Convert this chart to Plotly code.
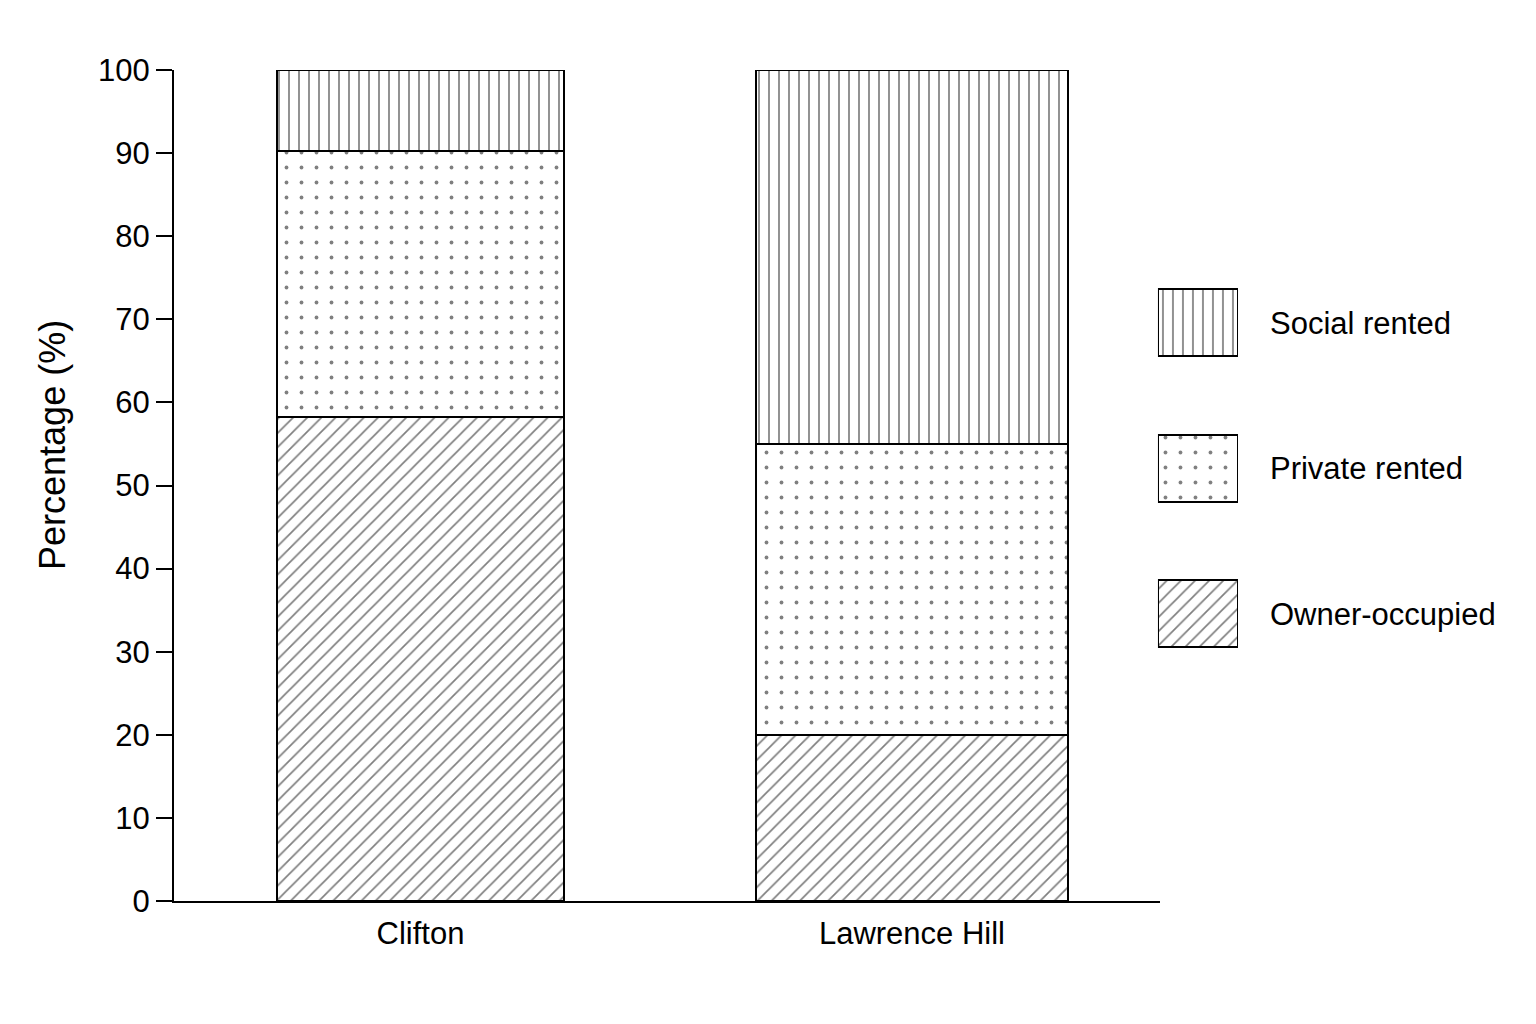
import plotly.graph_objects as go

# Housing tenure by area (percent of households)
areas = ['Clifton', 'Lawrence Hill']
owner_occupied = [58.3, 20.0]
private_rented = [31.9, 35.0]
social_rented = [9.8, 45.0]

legend_items = ['Owner-occupied', 'Private rented', 'Social rented']

FONT = 'Liberation Sans, Arial, sans-serif'
bar_widths = [0.584, 0.635]

patterns = {
    'Owner-occupied': dict(shape='/', size=10, solidity=0.17, fgcolor='black', bgcolor='white'),
    'Private rented': dict(shape='.', size=15, solidity=0.05, fgcolor='black', bgcolor='white'),
    'Social rented': dict(shape='|', size=10, solidity=0.17, fgcolor='black', bgcolor='white'),
}
series = [('Owner-occupied', owner_occupied),
          ('Private rented', private_rented),
          ('Social rented', social_rented)]

fig = go.Figure()
for name, vals in series:
    fig.add_trace(go.Bar(
        x=areas, y=vals, name=name, width=bar_widths,
        marker=dict(color='white', pattern=patterns[name],
                    line=dict(color='black', width=2)),
        showlegend=False, hoverinfo='skip'
    ))

# hand-made legend: small horizontal bars on a second pair of axes
for name in legend_items:
    fig.add_trace(go.Bar(
        x=[1], y=[name], orientation='h', width=0.46, xaxis='x2', yaxis='y2',
        marker=dict(color='white', pattern=patterns[name],
                    line=dict(color='black', width=2)),
        showlegend=False, hoverinfo='skip'
    ))

fig.update_layout(
    barmode='stack',
    width=1536, height=1024,
    margin=dict(l=166, r=36, t=62, b=131),
    paper_bgcolor='white', plot_bgcolor='white',
    font=dict(family=FONT, size=31, color='black'),
    xaxis=dict(domain=[0, 0.7391], range=[-0.5015, 1.5046], showline=True,
               linecolor='black', linewidth=2, ticks='', showgrid=False,
               ticklabelstandoff=4, tickfont=dict(size=31)),
    yaxis=dict(range=[0, 100], dtick=10, ticks='outside', ticklen=16, tickwidth=2,
               tickcolor='black', showline=True, linecolor='black', linewidth=2,
               showgrid=False, zeroline=False, tickfont=dict(size=31)),
    xaxis2=dict(domain=[0.7376, 0.7976], range=[0, 1], visible=False, anchor='y2'),
    yaxis2=dict(domain=[0.2578, 0.7834], anchor='x2', side='right', range=[-0.5, 2.5],
                categoryorder='array', categoryarray=legend_items,
                showline=False, showgrid=False, zeroline=False, ticks='',
                ticklabelstandoff=31, tickfont=dict(size=31)),
    annotations=[dict(text='Percentage (%)', textangle=-90, xref='paper', yref='paper',
                      x=-0.0915, y=0.5487, xanchor='center', yanchor='middle',
                      showarrow=False, font=dict(size=36))],
)

fig.write_html("out.html")
